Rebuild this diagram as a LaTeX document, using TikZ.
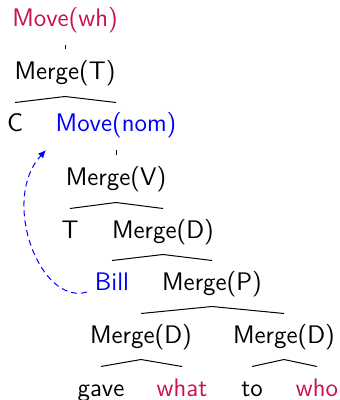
\documentclass[tikz,border=0pt]{standalone}
\usetikzlibrary{arrows.meta}
\definecolor{wh}{RGB}{200,18,80}
\begin{document}
\begin{tikzpicture}[x=0.5pt,y=-0.5pt,
  every node/.style={inner sep=0pt,outer sep=0pt,anchor=base,text height=14.75pt,text depth=8.25pt,
    font=\sffamily\fontsize{12.7}{15}\selectfont},
  edge/.style={line width=0.5pt},
  tick/.style={line width=0.5pt,shorten >=0.5pt,shorten <=1pt},
  mv/.style={draw=blue,line width=0.5pt,dashed,dash pattern=on 3pt off 2pt,-{Latex[length=4pt,width=3.5pt]}}]
\useasboundingbox (0,0) rectangle (340,400);
\node[text=wh] (mwh) at (65,27) {Move(wh)};
\node (mt) at (65,80) {Merge(T)};
\node (c) at (15,132) {C};
\node[text=blue] (mnom) at (116,132) {Move(nom)};
\node (mv) at (116,186) {Merge(V)};
\node (t) at (70,238) {T};
\node (md) at (163,238) {Merge(D)};
\node[text=blue] (bill) at (112,290) {Bill};
\node (mp) at (212,290) {Merge(P)};
\node (md1) at (141,343) {Merge(D)};
\node (md2) at (284,343) {Merge(D)};
\node (gave) at (101,396) {gave};
\node[text=wh] (what) at (182,396) {what};
\node (to) at (252,396) {to};
\node[text=wh] (who) at (317,396) {who};
\draw[tick] (mwh.south) -- (mt.north);
\draw[tick] (mnom.south) -- (mv.north);
\draw[edge] (c.north) -- (mt.south) -- (mnom.north);
\draw[edge] (t.north) -- (mv.south) -- (md.north);
\draw[edge] (bill.north) -- (md.south) -- (mp.north);
\draw[edge] (md1.north) -- (mp.south) -- (md2.north);
\draw[edge] (gave.north) -- (md1.south) -- (what.north);
\draw[edge] (to.north) -- (md2.south) -- (who.north);
\coordinate (bs) at (87,292);
\coordinate (mt2) at (46,150);
\draw[mv] (bs) .. controls (40,306) and (0,200) .. (mt2);
\end{tikzpicture}
\end{document}
